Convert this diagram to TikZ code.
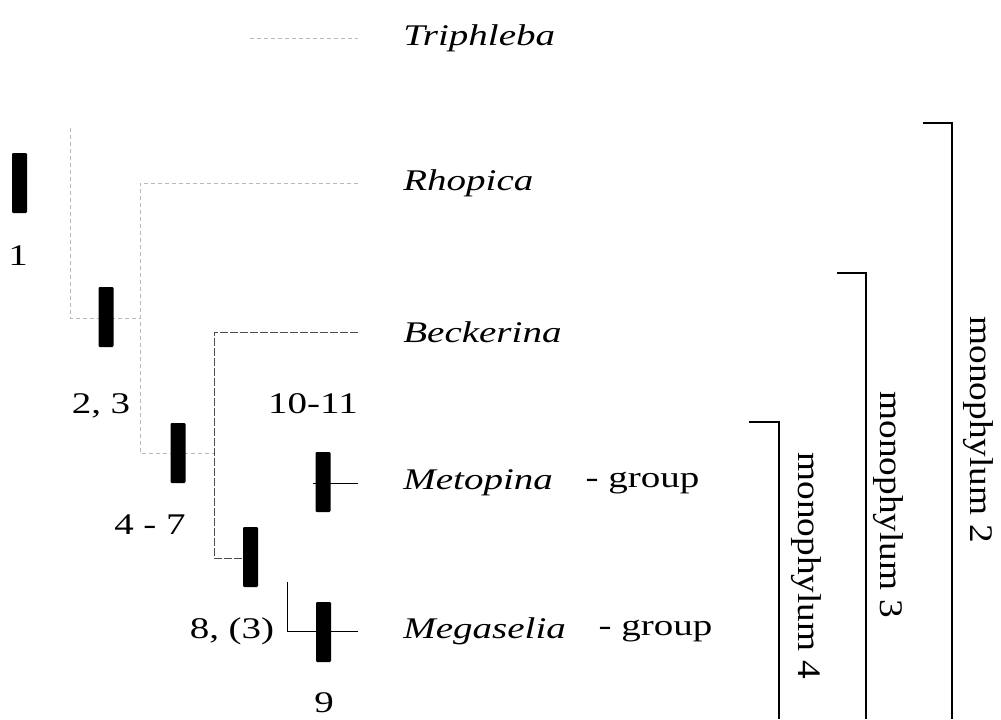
\documentclass[tikz,border=0pt]{standalone}
\usepackage{fontspec}
\setmainfont{Liberation Serif}[FakeStretch=1.3]
\newfontfamily\cladefont{Liberation Serif}[FakeStretch=1.13]
\usetikzlibrary{positioning}

\begin{document}
\begin{tikzpicture}[x=0.5pt, y=-0.5pt,
    apo/.style={fill=black, minimum width=7.5pt, minimum height=30pt, inner sep=0pt, rounded corners=0.6pt},
    taxon/.style={inner sep=0pt, font=\fontsize{15}{18}\selectfont\itshape},
    grp/.style={inner sep=0pt, font=\fontsize{15}{18}\selectfont},
    num/.style={inner sep=0pt, anchor=base, font=\fontsize{15}{18}\selectfont},
    clade/.style={inner sep=0pt, anchor=base west, rotate=-90, font=\cladefont\fontsize{16.5}{20}\selectfont},
    faint/.style={gray!55, line width=0.5pt, dash pattern=on 2pt off 1.5pt},
    branch/.style={black!70, line width=0.5pt, dash pattern=on 4pt off 1pt},
    stem/.style={black, line width=0.5pt},
    bracket/.style={black, line width=0.7pt}]

    \useasboundingbox (0,0) rectangle (1001,719);

    \coordinate (triS) at (250,38);
    \coordinate (triE) at (358,38);
    \coordinate (rootT) at (70,128);
    \coordinate (j1) at (140,318);
    \coordinate (rhoE) at (358,183);
    \coordinate (j2) at (140,453);
    \coordinate (j3) at (214,453);
    \coordinate (becE) at (358,332);
    \coordinate (j4) at (214,558);
    \coordinate (metE) at (358,483);
    \coordinate (j5) at (287,582);
    \coordinate (megE) at (358,631);

    \node[taxon, right=22.5pt of triE] (tri) {Triphleba};
    \node[taxon, right=22.5pt of rhoE] (rho) {Rhopica};
    \node[taxon, right=22.5pt of becE] (bec) {Beckerina};
    \node[taxon, right=22.5pt of metE] (met) {Metopina};
    \node[grp, right=16pt of met] (metg) {- group};
    \node[taxon, right=22.5pt of megE] (meg) {Megaselia};
    \node[grp, right=16pt of meg] (megg) {- group};

    \draw[faint] (triS) -- (triE);
    \draw[faint] (rootT) |- (j1);
    \draw[faint] (rhoE) -| (j2) -- (j3);
    \draw[branch] (becE) -| (j4) -- (250.5,558);
    \draw[stem] (313,483) -- (metE);
    \draw[stem] (j5) |- (megE);

    \node[apo] (a1) at (19.5,183) {};
    \node[apo] (a2) at (106,317) {};
    \node[apo] (a3) at (178,453) {};
    \node[apo] (a4) at (250.5,557) {};
    \node[apo] (a5) at (323,482) {};
    \node[apo] (a6) at (323.5,632) {};

    \node[num] (n1) at (18,265) {1};
    \node[num] (n2) at (101,413) {2, 3};
    \node[num] (n3) at (150,534) {4 - 7};
    \node[num] (n4) at (232,638) {8, (3)};
    \node[num] (n5) at (324,712) {9};
    \node[num] (n6) at (313,413) {10-11};

    \coordinate (m2a) at (923,123);
    \coordinate (m2b) at (952,719);
    \coordinate (m3a) at (837,273);
    \coordinate (m3b) at (866,719);
    \coordinate (m4a) at (749,422);
    \coordinate (m4b) at (779,719);
    \draw[bracket] (m2a) -| (m2b);
    \draw[bracket] (m3a) -| (m3b);
    \draw[bracket] (m4a) -| (m4b);

    \node[clade] (m2) at (970,316) {monophylum 2};
    \node[clade] (m3) at (880,391) {monophylum 3};
    \node[clade] (m4) at (798,452) {monophylum 4};
\end{tikzpicture}
\end{document}
